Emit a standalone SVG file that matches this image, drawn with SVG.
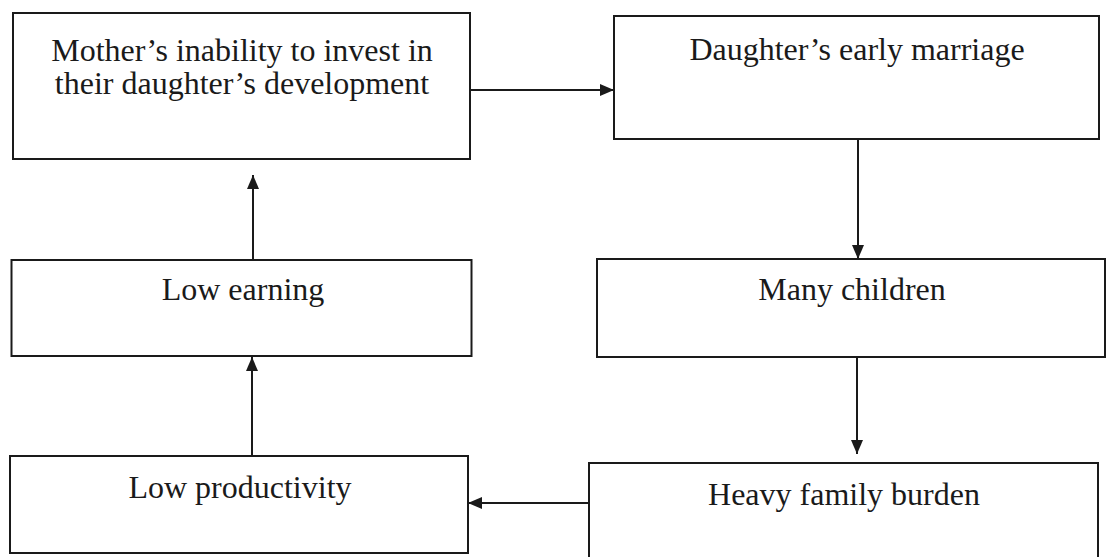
<svg xmlns="http://www.w3.org/2000/svg" width="1106" height="557" viewBox="0 0 1106 557">
<style>
.box{fill:#fff;stroke:#1a1a1a;stroke-width:2}
.lbl{font-family:"Liberation Serif","Times New Roman",serif;font-size:32px;fill:#1a1a1a;text-anchor:middle}
.con{stroke:#1a1a1a;stroke-width:2;fill:none;marker-end:url(#arr)}
</style>
<defs>
<marker id="arr" markerUnits="userSpaceOnUse" markerWidth="14" markerHeight="12" refX="14" refY="6" orient="auto">
<path d="M0,0 L14,6 L0,12 z" fill="#1a1a1a"/>
</marker>
</defs>
<rect width="1106" height="557" fill="#fff"/>
<g id="connectors">
<line class="con" x1="470" y1="90" x2="614" y2="90"/>
<line class="con" x1="858" y1="139" x2="858" y2="259"/>
<line class="con" x1="857" y1="357" x2="857" y2="454"/>
<line class="con" x1="589" y1="503" x2="468" y2="503"/>
<line class="con" x1="252" y1="456" x2="252" y2="357"/>
<line class="con" x1="253" y1="260" x2="253" y2="175"/>
</g>
<g id="node-mother">
<rect class="box" x="13" y="13" width="457" height="146"/>
<text class="lbl" x="242" y="61">Mother’s inability to invest in</text>
<text class="lbl" x="242" y="94">their daughter’s development</text>
</g>
<g id="node-marriage">
<rect class="box" x="614" y="16" width="485" height="123"/>
<text class="lbl" x="857" y="60">Daughter’s early marriage</text>
</g>
<g id="node-children">
<rect class="box" x="597" y="259" width="508" height="98"/>
<text class="lbl" x="852" y="300">Many children</text>
</g>
<g id="node-burden">
<rect class="box" x="589" y="463" width="509" height="100"/>
<text class="lbl" x="844" y="505">Heavy family burden</text>
</g>
<g id="node-productivity">
<rect class="box" x="10" y="456" width="458" height="97"/>
<text class="lbl" x="240" y="498">Low productivity</text>
</g>
<g id="node-earning">
<rect class="box" x="11.5" y="260" width="460" height="96"/>
<text class="lbl" x="243" y="300">Low earning</text>
</g>
</svg>
